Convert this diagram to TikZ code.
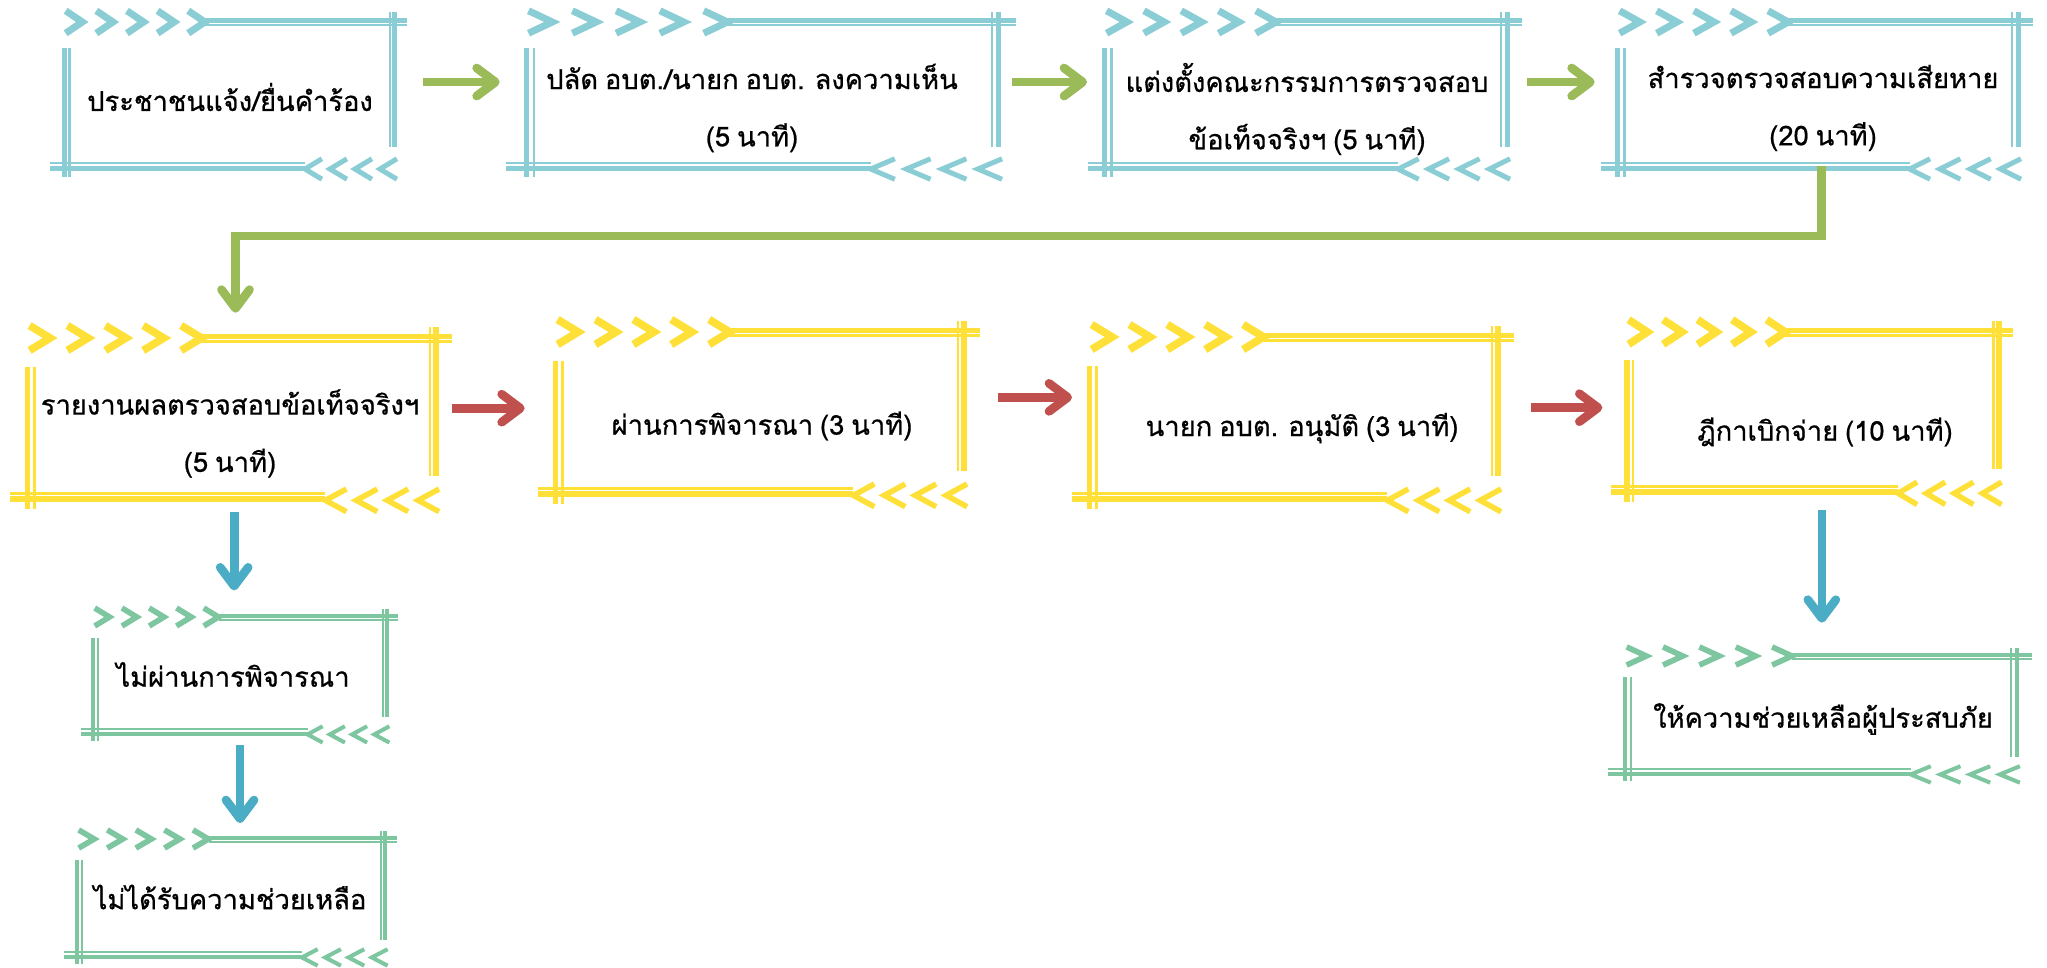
\documentclass[tikz,border=0pt]{standalone}
\usepackage{fontspec}
\newfontfamily\thaifont[Script=Thai, FakeBold=0.7, WordSpace=0.75]{Loma}
\usetikzlibrary{arrows.meta,calc}

\definecolor{frameteal}{RGB}{139,205,212}
\definecolor{frameyellow}{RGB}{255,224,56}
\definecolor{framemint}{RGB}{125,198,160}
\definecolor{arrowgreen}{RGB}{155,187,89}
\definecolor{arrowred}{RGB}{192,80,77}
\definecolor{arrowblue}{RGB}{75,172,198}

\tikzset{every picture/.style={line width=0.75pt},
  stageframe/.style={inner sep=0pt, outer sep=0pt},
  stagetext/.style={inner sep=0pt, align=center,
    font=\thaifont\fontsize{20.5}{43}\selectfont},
  flow/.style={line width=6.5pt, -{Straight Barb[length=14pt,width=21pt,round]},
    preaction={draw=black!22, transform canvas={xshift=1.5pt, yshift=-2.5pt}}},
  grnflow/.style={flow, draw=arrowgreen},
  redflow/.style={flow, draw=arrowred},
  bluflow/.style={flow, draw=arrowblue}}

% ornament: node, width, height, colour (size in px)
\newcommand{\ornament}[4]{%
  \pgfmathsetmacro{\hp}{#3*0.75/144}
  \begin{scope}[shift={(#1.north west)}, x=#2*0.75pt, y=#3*0.75pt, color=#4, line cap=butt,
      fthick/.style={line width=5*\hp*1pt}, fthin/.style={line width=2.3*\hp*1pt},
      chev/.style={line width=7*\hp*1pt, miter limit=10}, chevs/.style={line width=5*\hp*1pt, miter limit=10}]
    \foreach \i in {0,...,4}
      \draw[chev] ({-0.001+0.094*\i},-0.078) -- ({0.050+0.094*\i},0) -- ({-0.001+0.094*\i},0.078);
    \draw[fthick] (0.426,-0.010) -- (1.046,-0.010);
    \draw[fthin] (0.426,0.023) -- (1.046,0.023);
    \draw[fthin] (0.993,-0.069) -- (0.993,0.868);
    \draw[fthick] (1.008,-0.069) -- (1.008,0.868);
    \draw[fthick] (-0.006,0.18) -- (-0.006,1.076);
    \draw[fthin] (0.011,0.18) -- (0.011,1.076);
    \draw[fthin] (-0.049,0.977) -- (0.733,0.977);
    \draw[fthick] (-0.049,1.014) -- (0.733,1.014);
    \foreach \i in {0,...,3}
      \draw[chevs] ({0.785+0.0767*\i},0.950) -- ({0.733+0.0767*\i},1.021) -- ({0.785+0.0767*\i},1.092);
  \end{scope}}

% stage: name, x, y, width, height, colour, text dx, text dy, text
\newcommand{\stage}[9]{%
  \node[stageframe, minimum width=#4*0.75pt, minimum height=#5*0.75pt] (#1) at (#2,#3) {};
  \node[stagetext] (#1-t) at ($(#1.center)+(#7,#8)$) {#9};
  \ornament{#1}{#4}{#5}{#6}}

\begin{document}
\begin{tikzpicture}[x=0.75pt,y=0.75pt,yscale=-1,xscale=1]
  \useasboundingbox (0,0) rectangle (2047,967);

  % row 1
  \stage{n1}{229}{94}{326}{144}{frameteal}{1}{3}{ประชาชนแจ้ง/ยื่นคำร้อง}
  \stage{n2}{762}{94}{466}{144}{frameteal}{-10}{14}{ปลัด อบต./นายก อบต. ลงความเห็น\\(5 นาที)}
  \stage{n3}{1305.5}{94}{397}{144}{frameteal}{1.5}{15}{แต่งตั้งคณะกรรมการตรวจสอบ\\ข้อเท็จจริงฯ (5 นาที)}
  \stage{n4}{1817.5}{94}{395}{144}{frameteal}{5.5}{14}{สำรวจตรวจสอบความเสียหาย\\(20 นาที)}

  % row 2
  \stage{n5}{231.5}{417.5}{403}{159}{frameyellow}{-1.5}{16}{รายงานผลตรวจสอบข้อเท็จจริงฯ\\(5 นาที)}
  \stage{n6}{759.5}{412}{403}{160}{frameyellow}{2.5}{14}{ผ่านการพิจารณา (3 นาที)}
  \stage{n7}{1293.5}{417}{403}{160}{frameyellow}{8.5}{11}{นายก อบต. อนุมัติ (3 นาที)}
  \stage{n8}{1812.5}{411}{367}{158}{frameyellow}{12.5}{21}{ฎีกาเบิกจ่าย (10 นาที)}

  % row 3
  \stage{n9}{240}{674.5}{290}{115}{framemint}{-7}{0}{ไม่ผ่านการพิจารณา}
  \stage{n10}{231}{897}{304}{116}{framemint}{-1}{0}{ไม่ได้รับความช่วยเหลือ}
  \stage{n11}{1820.5}{714}{387}{116}{framemint}{2.5}{5}{ให้ความช่วยเหลือผู้ประสบภัย}

  % arrows
  \draw[grnflow, shorten <=23pt, shorten >=22pt] ([yshift=-9pt]n1.east) -- ([yshift=-9pt]n2.west);
  \draw[grnflow, shorten <=13pt, shorten >=15pt] ([yshift=-9pt]n2.east) -- ([yshift=-9pt]n3.west);
  \draw[grnflow, shorten <=17pt, shorten >=19pt] ([yshift=-9pt]n3.east) -- ([yshift=-9pt]n4.west);
  \draw[grnflow, shorten >=19pt] ([xshift=3pt]n4.south) -- ++(0,70) -| ([xshift=3pt]n5.north);

  \draw[redflow, shorten <=14pt, shorten >=25pt] ([yshift=-7pt]n5.east) -- ([yshift=-7pt]n5.east -| n6.west);
  \draw[redflow, shorten <=28pt, shorten >=15pt] ([yshift=-11pt]n6.east) -- ([yshift=-11pt]n6.east -| n7.west);
  \draw[redflow, shorten <=27pt, shorten >=20pt] ([yshift=-7pt]n7.east) -- ([yshift=-7pt]n7.east -| n8.west);

  \draw[bluflow, shorten <=11pt, shorten >=20pt] ([xshift=2pt]n5.south) -- ([xshift=2pt]n5.south |- n9.north);
  \draw[bluflow, shorten <=10pt, shorten >=12pt] (n9.south) -- (n9.south |- n10.north);
  \draw[bluflow, shorten <=15pt, shorten >=25pt] ([xshift=7pt]n8.south) -- ([xshift=7pt]n8.south |- n11.north);
\end{tikzpicture}
\end{document}
